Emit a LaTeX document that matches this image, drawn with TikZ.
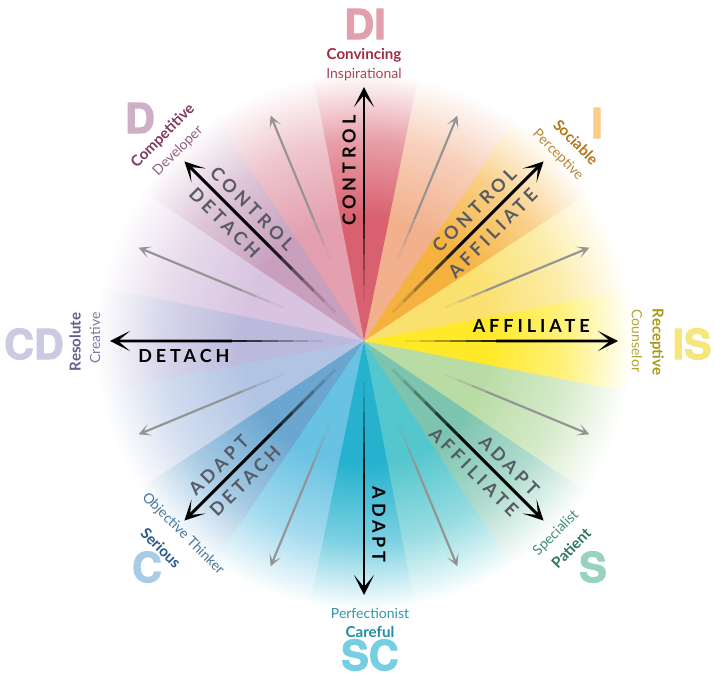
\documentclass[tikz,border=0pt]{standalone}
\usepackage{fontspec}
\setmainfont{Lato}
\newfontfamily\heavyfont{TeX Gyre Heros}[FakeBold=2.5]
\newfontfamily\axisfont{Lato}[LetterSpace=22]
\usepackage{tikz}
\usetikzlibrary{arrows.meta,calc}

% wheel sectors
\definecolor{secE}{RGB}{255,233,40}
\definecolor{secENE}{RGB}{250,224,110}
\definecolor{secNE}{RGB}{246,178,62}
\definecolor{secNNE}{RGB}{242,176,140}
\definecolor{secN}{RGB}{217,96,110}
\definecolor{secNNW}{RGB}{228,160,174}
\definecolor{secNW}{RGB}{200,160,190}
\definecolor{secWNW}{RGB}{216,196,224}
\definecolor{secW}{RGB}{188,186,220}
\definecolor{secWSW}{RGB}{178,196,228}
\definecolor{secSW}{RGB}{106,166,208}
\definecolor{secSSW}{RGB}{104,194,226}
\definecolor{secS}{RGB}{38,178,206}
\definecolor{secSSE}{RGB}{84,198,206}
\definecolor{secSE}{RGB}{124,196,174}
\definecolor{secESE}{RGB}{184,220,164}
% style labels
\definecolor{diBig}{RGB}{226,160,172}\definecolor{diBold}{RGB}{160,44,68}\definecolor{diReg}{RGB}{170,70,86}
\definecolor{dBig}{RGB}{206,176,198}\definecolor{dBold}{RGB}{128,58,98}\definecolor{dReg}{RGB}{145,95,130}
\definecolor{iBig}{RGB}{250,204,134}\definecolor{iBold}{RGB}{180,116,22}\definecolor{iReg}{RGB}{190,134,50}
\definecolor{isBig}{RGB}{246,230,124}\definecolor{isBold}{RGB}{166,154,20}\definecolor{isReg}{RGB}{176,166,50}
\definecolor{cdBig}{RGB}{202,202,226}\definecolor{cdBold}{RGB}{96,94,142}\definecolor{cdReg}{RGB}{124,122,160}
\definecolor{cBig}{RGB}{168,204,230}\definecolor{cBold}{RGB}{38,88,138}\definecolor{cReg}{RGB}{72,118,160}
\definecolor{sBig}{RGB}{154,210,192}\definecolor{sBold}{RGB}{46,118,98}\definecolor{sReg}{RGB}{64,140,118}
\definecolor{scBig}{RGB}{118,206,226}\definecolor{scBold}{RGB}{30,140,168}\definecolor{scReg}{RGB}{46,150,174}
\definecolor{diagGray}{RGB}{85,90,100}
\colorlet{wheelcol}{white}

% 25bp is the rim of the shaded circle
\pgfdeclareradialshading[wheelcol]{wheelshade}{\pgfpointorigin}{color(0bp)=(wheelcol); color(11bp)=(wheelcol);
    color(18bp)=(wheelcol!60!white); color(24bp)=(white); color(50bp)=(white)}

\begin{document}
\begin{tikzpicture}[x=0.75pt,y=0.75pt,yscale=-1,xscale=1,
    bigtag/.style={font=\heavyfont\bfseries\fontsize{31}{31}\selectfont, inner sep=0pt},
    boldtag/.style={font=\bfseries\fontsize{11.3}{12}\selectfont, inner sep=0pt},
    regtag/.style={font=\fontsize{10.5}{12}\selectfont, inner sep=0pt},
    axislab/.style={font=\axisfont\bfseries\fontsize{13.5}{14}\selectfont, inner xsep=0pt, inner ysep=6pt},
    diaglab/.style={axislab, text=diagGray},
    blackshaft/.style={line width=2.2pt, draw=black},
    blacktip/.style={-{Stealth[length=15pt,width=15pt,inset=9pt]}},
    grayshaft/.style={line width=1.6pt, draw=black!42},
    graytip/.style={-{Stealth[length=9pt,width=9pt,inset=5pt]}}]
        \useasboundingbox (0,0) rectangle (715,677);
        \coordinate (c) at (364,341);
        %colour wheel, 16 sectors fading out to white
        \foreach \a/\col in {0/secE,22.5/secENE,45/secNE,67.5/secNNE,90/secN,112.5/secNNW,135/secNW,157.5/secWNW,
            180/secW,202.5/secWSW,225/secSW,247.5/secSSW,270/secS,292.5/secSSE,315/secSE,337.5/secESE}{
            \colorlet{wheelcol}{\col}
            \begin{scope}
                \clip (c) -- ($(c)+(-\a+11.6:300)$) -- ($(c)+(-\a-11.6:300)$) -- cycle;
                \shade[shading=wheelshade] (c) circle (280);
            \end{scope}
        }
        %gray arrows
        \foreach \a [count=\i] in {22.5,67.5,...,337.5}{
            \coordinate (gr\i) at ($(c)+(-\a:244)$);
            \foreach \f/\g/\o in {0.36/0.42/0.15,0.42/0.48/0.4,0.48/0.54/0.7}
                \draw[grayshaft, opacity=\o] ($(c)!\f!(gr\i)$) -- ($(c)!\g!(gr\i)$);
            \draw[grayshaft, graytip] ($(c)!0.54!(gr\i)$) -- (gr\i);
        }
        %black arrows
        \foreach \a in {0,45,...,315}{
            \coordinate (bk\a) at ($(c)+(-\a:254)$);
            \foreach \f/\g/\o in {0.16/0.22/0.08,0.22/0.28/0.2,0.28/0.34/0.35,0.34/0.40/0.5,0.40/0.46/0.7,0.46/0.52/0.85}
                \draw[blackshaft, opacity=\o] ($(c)!\f!(bk\a)$) -- ($(c)!\g!(bk\a)$);
            \draw[blackshaft, blacktip] ($(c)!0.52!(bk\a)$) -- (bk\a);
        }
        %axis labels
        \node[axislab, anchor=south east] (affE) at ($(c)+(0:226)$) {AFFILIATE};
        \node[axislab, rotate=90, anchor=south east] (ctrlN) at ($(c)+(-90:226)$) {CONTROL};
        \node[axislab, anchor=north west] (detW) at ($(c)+(-180:226)$) {DETACH};
        \node[axislab, rotate=-90, anchor=south east] (adaS) at ($(c)+(-270:222)$) {ADAPT};
        \node[diaglab, rotate=45, anchor=south east] (ctrlNE) at ($(c)+(-45:226)$) {CONTROL};
        \node[diaglab, rotate=45, anchor=north east] (affNE) at ($(c)+(-45:226)$) {AFFILIATE};
        \node[diaglab, rotate=-45, anchor=south west] (ctrlNW) at ($(c)+(-135:228)$) {CONTROL};
        \node[diaglab, rotate=-45, anchor=north west] (detNW) at ($(c)+(-135:228)$) {DETACH};
        \node[diaglab, rotate=45, anchor=south west] (adaSW) at ($(c)+(-225:229)$) {ADAPT};
        \node[diaglab, rotate=45, anchor=north west] (detSW) at ($(c)+(-225:229)$) {DETACH};
        \node[diaglab, rotate=-45, anchor=south east] (adaSE) at ($(c)+(-315:229)$) {ADAPT};
        \node[diaglab, rotate=-45, anchor=north east] (affSE) at ($(c)+(-315:229)$) {AFFILIATE};
        %DI
        \node[bigtag, text=diBig] (di) at (365,24) {DI};
        \node[boldtag, text=diBold] (convincing) at (364,55) {Convincing};
        \node[regtag, text=diReg] (inspirational) at (364,75) {Inspirational};
        %D
        \node[bigtag, text=dBig] (d) at (140,118) {D};
        \node[boldtag, text=dBold, rotate=45] (competitive) at (163,136) {Competitive};
        \node[regtag, text=dReg, rotate=45] (developer) at (178,151) {Developer};
        %I
        \node[bigtag, text=iBig] (i) at (597,123) {I};
        \node[boldtag, text=iBold, rotate=-45] (sociable) at (576,142) {Sociable};
        \node[regtag, text=iReg, rotate=-45] (perceptive) at (558,155) {Perceptive};
        %IS
        \node[bigtag, text=isBig] (is) at (692,344) {IS};
        \node[boldtag, text=isBold, rotate=-90] (receptive) at (657,342) {Receptive};
        \node[regtag, text=isReg, rotate=-90] (counselor) at (637,341) {Counselor};
        %CD
        \node[bigtag, text=cdBig] (cd) at (34,344) {CD};
        \node[boldtag, text=cdBold, rotate=90] (resolute) at (75,342) {Resolute};
        \node[regtag, text=cdReg, rotate=90] (creative) at (95,338) {Creative};
        %C
        \node[bigtag, text=cBig] (cc) at (147,567) {C};
        \node[regtag, text=cReg, rotate=-45] (objective) at (183,534) {Objective Thinker};
        \node[boldtag, text=cBold, rotate=-45] (serious) at (161,548) {Serious};
        %S
        \node[bigtag, text=sBig] (ss) at (593,567) {S};
        \node[regtag, text=sReg, rotate=45] (specialist) at (556,533) {Specialist};
        \node[boldtag, text=sBold, rotate=45] (patient) at (571,548) {Patient};
        %SC
        \node[regtag, text=scReg] (perfectionist) at (370,613) {Perfectionist};
        \node[boldtag, text=scBold] (careful) at (370,632) {Careful};
        \node[bigtag, text=scBig] (sc) at (370,655) {SC};
\end{tikzpicture}
\end{document}
